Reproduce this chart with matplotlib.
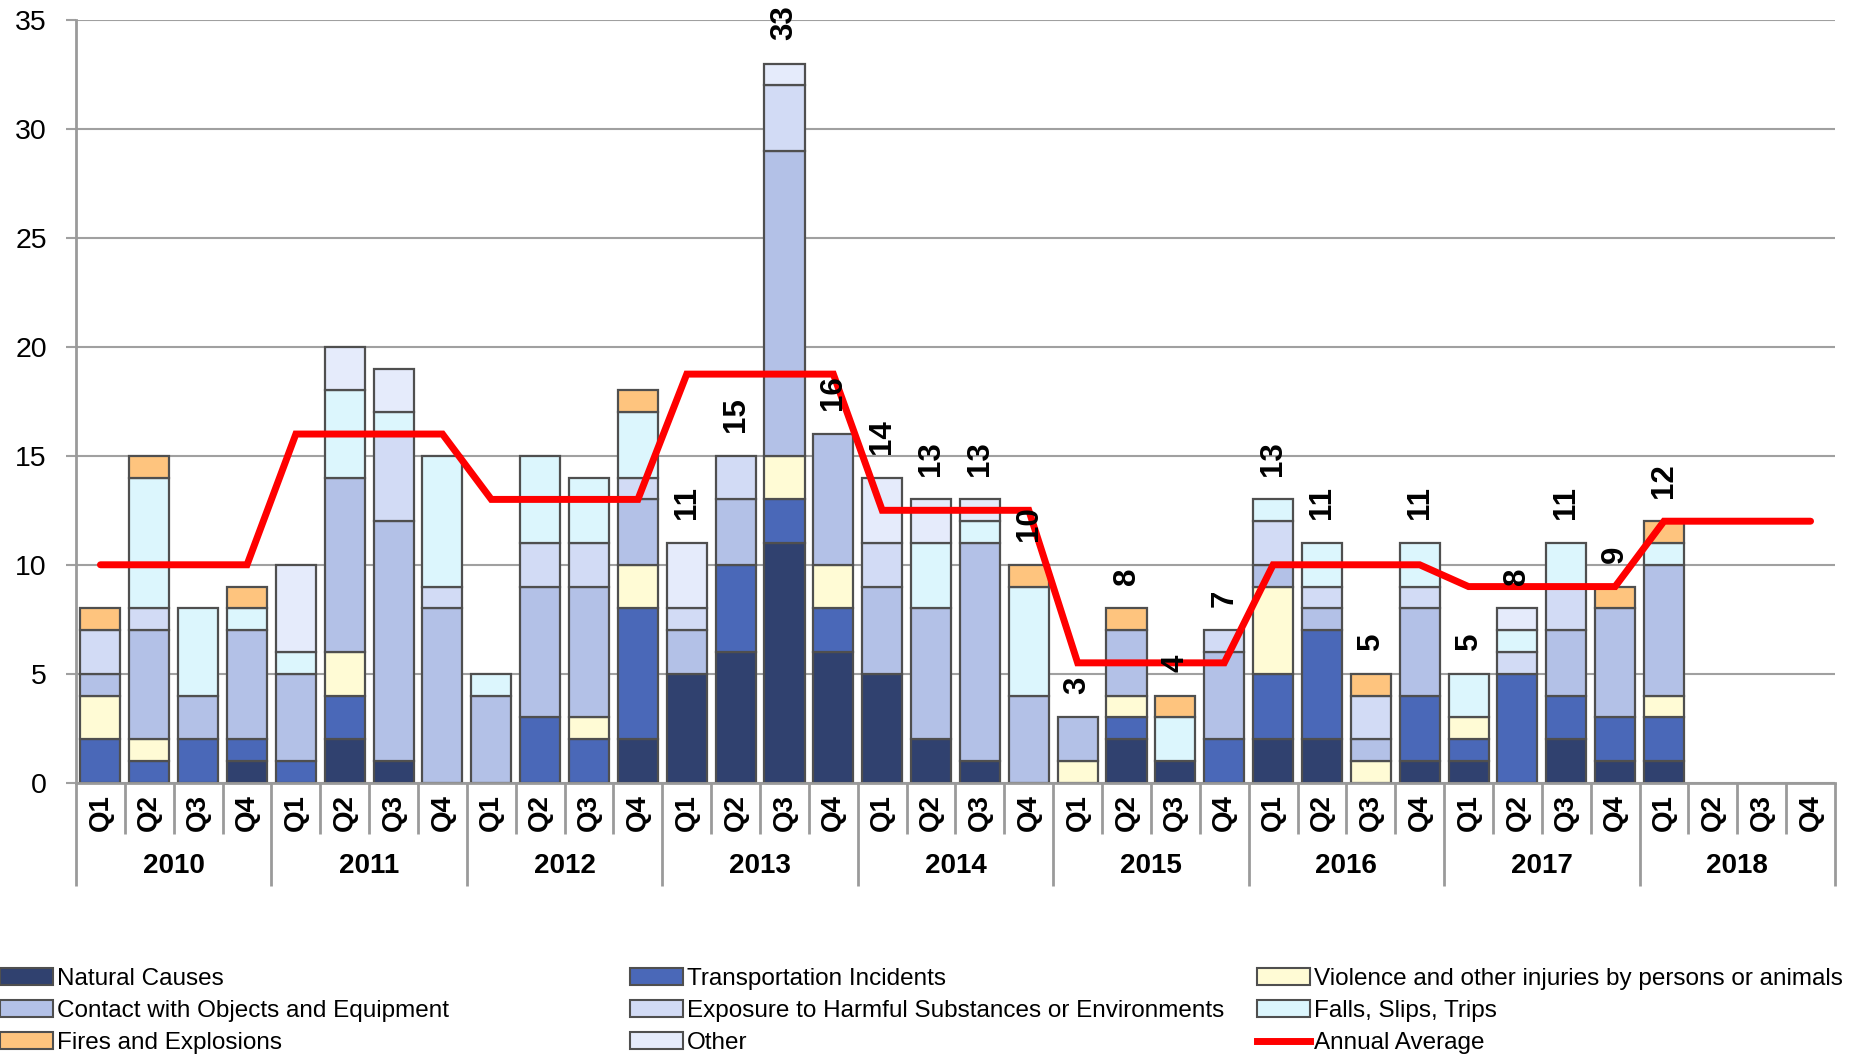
import numpy as np
import matplotlib
matplotlib.use("Agg")
import matplotlib.pyplot as plt
from matplotlib.patches import Patch
from matplotlib.lines import Line2D

plt.rcParams['font.family'] = ['Liberation Sans', 'DejaVu Sans']

years = ['2010', '2011', '2012', '2013', '2014', '2015', '2016', '2017', '2018']
quarters = ['Q1', 'Q2', 'Q3', 'Q4']

# deaths per quarter, 2010 Q1 .. 2018 Q4
natural = [0, 0, 0, 1,  0, 2, 1, 0,  0, 0, 0, 2,  5, 6, 11, 6,  5, 2, 1, 0,
           0, 2, 1, 0,  2, 2, 0, 1,  1, 0, 2, 1,  1, 0, 0, 0]
transport = [2, 1, 2, 1,  1, 2, 0, 0,  0, 3, 2, 6,  0, 4, 2, 2,  0, 0, 0, 0,
             0, 1, 0, 2,  3, 5, 0, 3,  1, 5, 2, 2,  2, 0, 0, 0]
violence = [2, 1, 0, 0,  0, 2, 0, 0,  0, 0, 1, 2,  0, 0, 2, 2,  0, 0, 0, 0,
            1, 1, 0, 0,  4, 0, 1, 0,  1, 0, 0, 0,  1, 0, 0, 0]
contact = [1, 5, 2, 5,  4, 8, 11, 8,  4, 6, 6, 3,  2, 3, 14, 6,  4, 6, 10, 4,
           2, 3, 0, 4,  1, 1, 1, 4,  0, 0, 3, 5,  6, 0, 0, 0]
exposure = [2, 1, 0, 0,  0, 0, 4, 1,  0, 2, 2, 1,  1, 2, 3, 0,  2, 0, 0, 0,
            0, 0, 0, 1,  2, 1, 2, 1,  0, 1, 2, 0,  0, 0, 0, 0]
falls = [0, 6, 4, 1,  1, 4, 1, 6,  1, 4, 3, 3,  0, 0, 0, 0,  0, 3, 1, 5,
         0, 0, 2, 0,  1, 2, 0, 2,  2, 1, 2, 0,  1, 0, 0, 0]
fires = [1, 1, 0, 1,  0, 0, 0, 0,  0, 0, 0, 1,  0, 0, 0, 0,  0, 0, 0, 1,
         0, 1, 1, 0,  0, 0, 1, 0,  0, 0, 0, 1,  1, 0, 0, 0]
other = [0, 0, 0, 0,  4, 2, 2, 0,  0, 0, 0, 0,  3, 0, 1, 0,  3, 2, 1, 0,
         0, 0, 0, 0,  0, 0, 0, 0,  0, 1, 0, 0,  0, 0, 0, 0]

annual_avg = [10, 16, 13, 18.75, 12.5, 5.5, 10, 9, 12]

# totals are only printed from 2013 Q1 to 2018 Q1
first_label, last_label = 12, 32

series = [
    ('Natural Causes', natural, '#30416f'),
    ('Transportation Incidents', transport, '#4a68b8'),
    ('Violence and other injuries by persons or animals', violence, '#fffbd5'),
    ('Contact with Objects and Equipment', contact, '#b3c1e7'),
    ('Exposure to Harmful Substances or Environments', exposure, '#d2dbf5'),
    ('Falls, Slips, Trips', falls, '#dcf6fd'),
    ('Fires and Explosions', fires, '#fec47e'),
    ('Other', other, '#e5ebfb'),
]

n = len(years) * len(quarters)
x = np.arange(n)

fig = plt.figure(figsize=(18.56, 10.55), dpi=100)
ax = fig.add_axes([76 / 1856, 1 - 782.7 / 1055, (1835 - 76) / 1856, (782.7 - 20) / 1055])

edge = '#4f4f4f'
bottom = np.zeros(n)
last = None
for name, vals, col in series:
    vals = np.array(vals, dtype=float)
    lw = [1.6 if v > 0 else 0 for v in vals]  # no outline on empty segments
    last = ax.bar(x, vals, width=0.82, bottom=bottom, color=col,
                  edgecolor=edge, linewidth=lw, zorder=2)
    bottom += vals

avg_line = np.repeat(annual_avg, len(quarters))
ax.plot(x, avg_line, color='#ff0000', linewidth=5, solid_capstyle='round',
        solid_joinstyle='miter', zorder=3)

labels = [str(int(t)) if first_label <= i <= last_label else '' for i, t in enumerate(bottom)]
ax.bar_label(last, labels=labels, padding=17, rotation=90, fontsize=22.5,
             fontweight='bold', zorder=4)

ax.set_xlim(-0.5, n - 0.5)
ax.set_ylim(0, 35)
ax.set_yticks(range(0, 36, 5))
ax.grid(axis='y', color='#a0a0a0', linewidth=1.5, zorder=0)
ax.set_axisbelow(True)
for s in ['top', 'right']:
    ax.spines[s].set_visible(False)
ax.spines['left'].set_color('#9a9a9a')
ax.spines['left'].set_linewidth(2)
ax.spines['bottom'].set_color('#9a9a9a')
ax.spines['bottom'].set_linewidth(2)
ax.tick_params(axis='y', labelsize=20.5, length=7, width=1.5, color='#a0a0a0', pad=14)

# two-level category axis: quarter dividers short, year dividers long
ax.set_xticks(np.arange(-0.5, n, 4))
ax.set_xticks(np.arange(-0.5, n, 1), minor=True)
ax.tick_params(axis='x', which='major', length=74, width=2, color='#9a9a9a', labelbottom=False)
ax.tick_params(axis='x', which='minor', length=37, width=2, color='#9a9a9a')

xtr = ax.get_xaxis_transform()
h_px = 782.7 - 20
for i in range(n):
    ax.text(x[i], -30 / h_px, quarters[i % 4], transform=xtr, rotation=90,
            ha='center', va='center', fontsize=20, fontweight='bold')
for k, yr in enumerate(years):
    ax.text(4 * k + 1.5, -83 / h_px, yr, transform=xtr, ha='center', va='center',
            fontsize=20, fontweight='bold')

# legend in three columns, filled row by row
handles = [Patch(facecolor=c, edgecolor=edge, linewidth=1.5, label=nm) for nm, _, c in series]
handles.append(Line2D([], [], color='#ff0000', linewidth=5, label='Annual Average'))
col_x = [0, 630, 1257]
for c in range(3):
    fig.legend(handles=handles[c::3], loc='upper left',
               bbox_to_anchor=(col_x[c] / 1856, 1 - 968 / 1055),
               frameon=False, fontsize=17.5, handlelength=2.2, handleheight=0.7,
               handletextpad=0.15, labelspacing=0.42, borderpad=0, borderaxespad=0)

fig.savefig('out.png', dpi=100)
